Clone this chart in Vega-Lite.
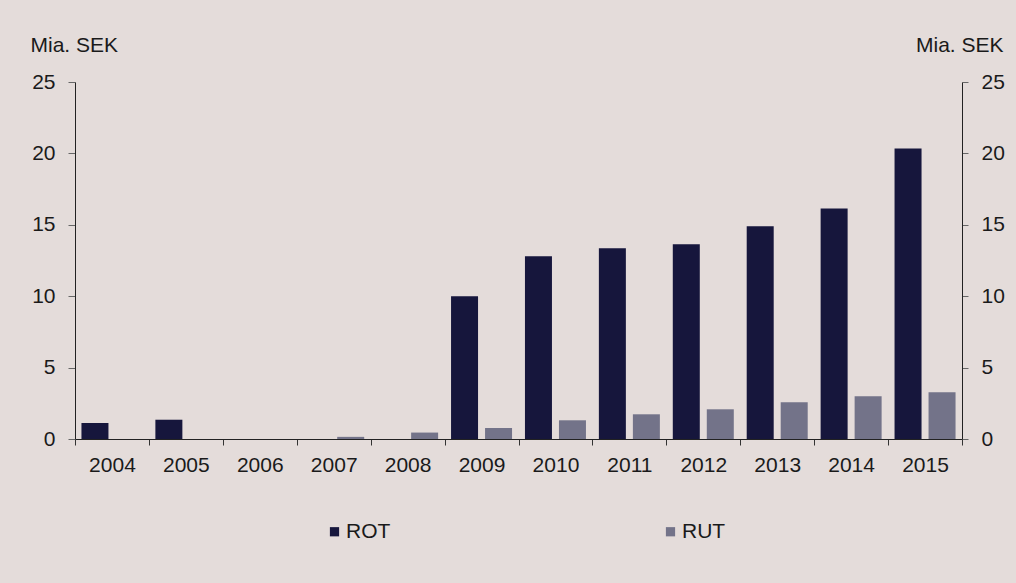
{
  "$schema": "https://vega.github.io/schema/vega-lite/v6.json",
  "width": 887,
  "height": 357,
  "autosize": {"type": "none"},
  "padding": {"left": 75, "top": 82, "right": 54, "bottom": 144},
  "background": "#e4dcda",
  "config": {
    "view": {"stroke": null},
    "font": "Liberation Sans",
    "axis": {"labelFont": "Liberation Sans", "titleFont": "Liberation Sans", "labelColor": "#1a1a1a", "titleColor": "#1a1a1a", "labelFontSize": 21, "titleFontSize": 21, "titleFontWeight": "normal", "grid": false},
    "legend": {"labelFont": "Liberation Sans", "labelFontSize": 21, "labelColor": "#1a1a1a"}
  },
  "data": {
    "values": [
      {"year": "2004", "series": "ROT", "value": 1.12},
      {"year": "2004", "series": "RUT", "value": 0},
      {"year": "2005", "series": "ROT", "value": 1.35},
      {"year": "2005", "series": "RUT", "value": 0},
      {"year": "2006", "series": "ROT", "value": 0},
      {"year": "2006", "series": "RUT", "value": 0},
      {"year": "2007", "series": "ROT", "value": 0},
      {"year": "2007", "series": "RUT", "value": 0.15},
      {"year": "2008", "series": "ROT", "value": 0},
      {"year": "2008", "series": "RUT", "value": 0.45},
      {"year": "2009", "series": "ROT", "value": 10.0},
      {"year": "2009", "series": "RUT", "value": 0.77},
      {"year": "2010", "series": "ROT", "value": 12.8},
      {"year": "2010", "series": "RUT", "value": 1.31},
      {"year": "2011", "series": "ROT", "value": 13.35},
      {"year": "2011", "series": "RUT", "value": 1.73},
      {"year": "2012", "series": "ROT", "value": 13.63},
      {"year": "2012", "series": "RUT", "value": 2.08},
      {"year": "2013", "series": "ROT", "value": 14.9},
      {"year": "2013", "series": "RUT", "value": 2.57},
      {"year": "2014", "series": "ROT", "value": 16.15},
      {"year": "2014", "series": "RUT", "value": 2.99},
      {"year": "2015", "series": "ROT", "value": 20.35},
      {"year": "2015", "series": "RUT", "value": 3.27}
    ]
  },
  "encoding": {
    "x": {
      "field": "year", "type": "nominal", "title": null,
      "scale": {"paddingInner": 0, "paddingOuter": 0},
      "axis": {"labelAngle": 0, "tickBand": "extent", "tickSize": 6, "tickColor": "#333", "domainColor": "#222", "labelPadding": 9}
    }
  },
  "layer": [
    {
      "mark": {"type": "bar", "strokeWidth": 0},
      "encoding": {
        "xOffset": {"field": "series", "type": "nominal", "scale": {"paddingInner": 0.206, "paddingOuter": 0.19}},
        "y": {
          "field": "value", "type": "quantitative",
          "scale": {"domain": [0, 25], "nice": false},
          "axis": {"orient": "left", "values": [0, 5, 10, 15, 20, 25], "title": "Mia. SEK", "titleAngle": 0, "titleAlign": "left", "titleBaseline": "alphabetic", "titleX": -45, "titleY": -31, "tickSize": 7, "labelPadding": 13, "tickColor": "#666", "domainColor": "#222"}
        },
        "color": {
          "field": "series", "type": "nominal",
          "scale": {"domain": ["ROT", "RUT"], "range": ["#16163c", "#737389"]},
          "legend": {"title": null, "orient": "none", "direction": "horizontal", "legendX": 249, "legendY": 439, "symbolType": "square", "symbolSize": 85, "symbolStrokeWidth": 0, "labelOffset": 1, "columnPadding": 269, "padding": 0}
        }
      }
    },
    {
      "mark": {"type": "point", "opacity": 0},
      "encoding": {
        "y": {
          "field": "value", "type": "quantitative",
          "scale": {"domain": [0, 25], "nice": false},
          "axis": {"orient": "right", "values": [0, 5, 10, 15, 20, 25], "title": "Mia. SEK", "titleAngle": 0, "titleAlign": "right", "titleBaseline": "alphabetic", "titleX": 41, "titleY": -31, "tickSize": 6, "labelPadding": 13, "tickColor": "#666", "domainColor": "#222"}
        }
      }
    }
  ],
  "resolve": {"scale": {"y": "independent"}}
}
